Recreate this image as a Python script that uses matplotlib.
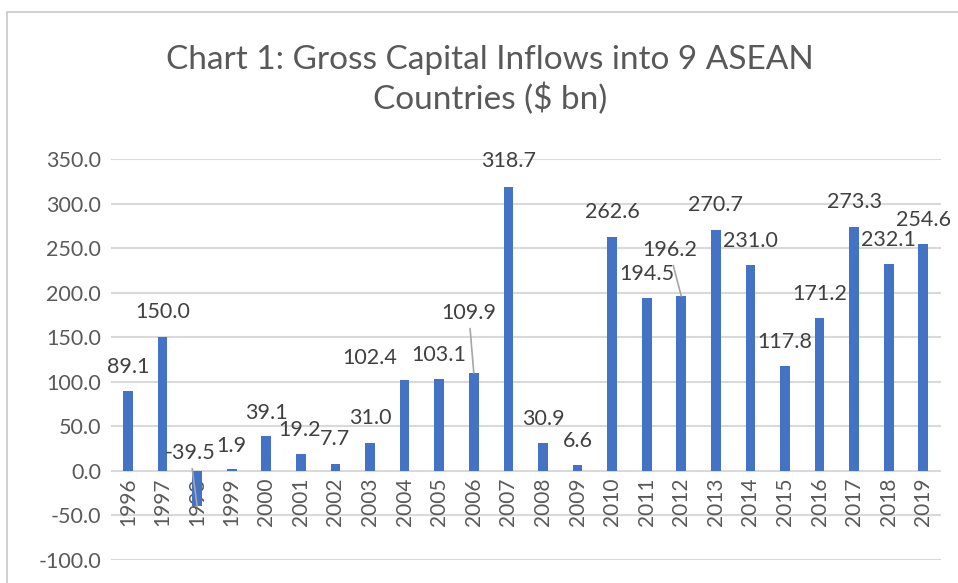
import matplotlib
matplotlib.use("Agg")
import matplotlib.pyplot as plt
from matplotlib.patches import Rectangle
import numpy as np

years = ["1996", "1997", "1998", "1999", "2000", "2001", "2002", "2003", "2004", "2005",
         "2006", "2007", "2008", "2009", "2010", "2011", "2012", "2013", "2014", "2015",
         "2016", "2017", "2018", "2019"]
inflows = [89.1, 150.0, -39.5, 1.9, 39.1, 19.2, 7.7, 31.0, 102.4, 103.1,
           109.9, 318.7, 30.9, 6.6, 262.6, 194.5, 196.2, 270.7, 231.0, 117.8,
           171.2, 273.3, 232.1, 254.6]
y_ticks = [-100, -50, 0, 50, 100, 150, 200, 250, 300, 350]
title = "Chart 1: Gross Capital Inflows into 9 ASEAN\nCountries ($ bn)"

# label offsets in pixels (dx, dy) relative to bar end; leader lines for displaced labels
label_offsets = [(0, 24), (0, 25), (-7, 53), (0, 23), (0, 23), (-1, 24), (0, 25), (0, 25),
                 (-35, 22), (0, 24), (-5, 60), (0, 26), (0, 24), (0, 24), (0, 25), (0, 24),
                 (-12, 46), (0, 25), (0, 24), (0, 24), (0, 24), (0, 25), (0, 24), (0, 24)]
leaders = {2, 10, 16}

plt.rcParams['font.family'] = ['Lato', 'DejaVu Sans']

W, H = 958, 583
fig = plt.figure(figsize=(W / 100, H / 100), dpi=100)
fig.patch.set_facecolor("white")

# chart border
fig.add_artist(Rectangle((7 / W, -0.1), 1.2, (H - 12) / H + 0.1, transform=fig.transFigure,
                         fill=False, edgecolor="#c8c8c8", linewidth=1.2))

ax = fig.add_axes([110.7 / W, (H - 560) / H, (940.6 - 110.7) / W, (560 - 159) / H])
x = np.arange(len(years))
ax.bar(x, inflows, width=0.28, color="#4472C4", zorder=3)
ax.set_xlim(-0.5, len(years) - 0.5)
ax.set_ylim(-100, 350)
ax.set_yticks(y_ticks)
ax.set_yticklabels([f"{v:.1f}" for v in y_ticks], fontsize=15.5, color="#595959")
ax.tick_params(axis="y", length=0, pad=7)
ax.set_xticks([])
ax.grid(axis="y", color="#d9d9d9", linewidth=1.5, zorder=0)
for s in ax.spines.values():
    s.set_visible(False)

for i, (yr, v) in enumerate(zip(years, inflows)):
    ax.annotate(yr, (i, 0), xytext=(0, -7), textcoords="offset pixels", rotation=90,
                ha="center", va="top", fontsize=15, color="#595959", zorder=2)
    dx, dy = label_offsets[i]
    kw = dict(xytext=(dx, dy), textcoords="offset pixels", ha="center", va="center",
              fontsize=15.5, color="#404040", zorder=5)
    if i in leaders:
        kw["arrowprops"] = dict(arrowstyle="-", color="#a6a6a6", lw=1.2, shrinkA=2, shrinkB=0)
    ax.annotate(f"{v:.1f}", (i, v), **kw)

fig.text(490 / W, 1 - 80 / H, title, ha="center", va="center", fontsize=24,
         color="#595959", linespacing=1.3)

fig.savefig("out.png", dpi=100)
